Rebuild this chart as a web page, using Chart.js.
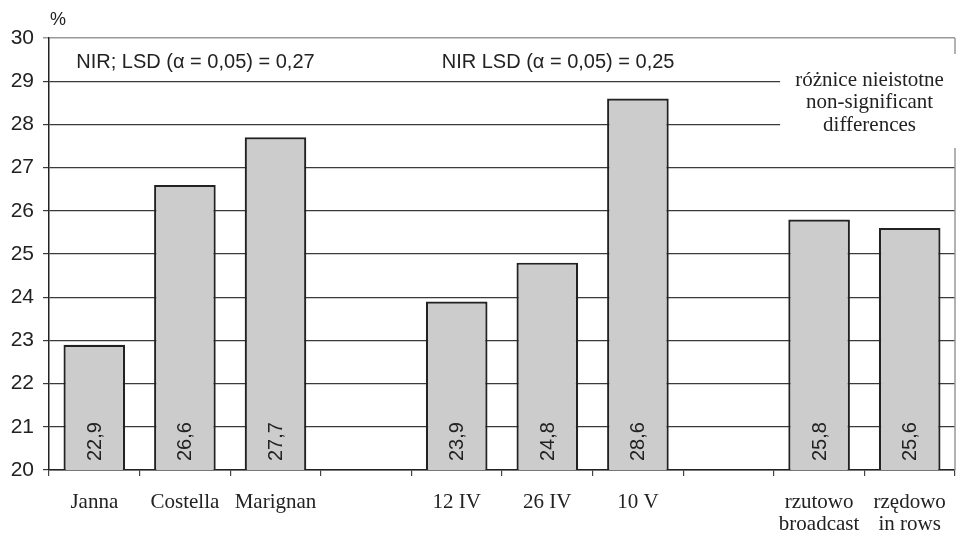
<!DOCTYPE html>
<html>
<head>
<meta charset="utf-8">
<style>
  html, body { margin: 0; padding: 0; background: #fff; }
  #wrap { width: 970px; height: 540px; position: relative; }
</style>
<script src="https://cdn.jsdelivr.net/npm/chart.js@4/dist/chart.umd.min.js"></script>
</head>
<body>
<div id="wrap"><canvas id="c" width="970" height="540"></canvas></div>
<script>
// Categories: cultivars, sowing dates, sowing methods (blank slots separate the groups)
const categories = [
  ['Janna'], ['Costella'], ['Marignan'], '',
  ['12 IV'], ['26 IV'], ['10 V'], '',
  ['rzutowo', 'broadcast'], ['rzędowo', 'in rows']
];
const values = [22.9, 26.6, 27.7, null, 23.9, 24.8, 28.6, null, 25.8, 25.6];
const yMin = 20;
const yMax = 30;
const yStep = 1;
const unitLabel = '%';
const lsdNotes = ['NIR; LSD (\u03b1 = 0,05) = 0,27', 'NIR LSD (\u03b1 = 0,05) = 0,25'];
const boxNote = ['różnice nieistotne', 'non-significant', 'differences'];

const SANS = '"Liberation Sans", Arial, sans-serif';
const SERIF = '"Liberation Serif", "Times New Roman", serif';
const INK = '#222';

const fmt = v => v.toFixed(1).replace('.', ',');

const notesPlugin = {
  id: 'notes',
  afterDatasetsDraw(chart) {
    const ctx = chart.ctx;
    const y = chart.scales.y;
    const meta = chart.getDatasetMeta(0);
    ctx.save();
    ctx.fillStyle = INK;
    ctx.font = '20px ' + SANS;
    ctx.textAlign = 'left';
    ctx.textBaseline = 'middle';
    meta.data.forEach((bar, i) => {
      if (values[i] == null) return;
      ctx.save();
      ctx.translate(bar.x, y.bottom - 9);
      ctx.rotate(-Math.PI / 2);
      ctx.fillText(fmt(values[i]), 0, 1);
      ctx.restore();
    });
    ctx.restore();
  },
  afterDraw(chart) {
    const ctx = chart.ctx;
    const a = chart.chartArea;
    const x = chart.scales.x;
    ctx.save();
    // right frame line
    ctx.strokeStyle = '#999';
    ctx.lineWidth = 1.5;
    ctx.beginPath();
    ctx.moveTo(a.right, a.top);
    ctx.lineTo(a.right, a.bottom);
    ctx.stroke();

    // white panel behind the note on the right
    const bx = x.getPixelForValue(8) - 39;
    ctx.fillStyle = '#fff';
    ctx.fillRect(bx, a.top + 16, chart.width - bx, 94);
    ctx.fillStyle = INK;
    ctx.font = '21px ' + SERIF;
    ctx.textAlign = 'center';
    ctx.textBaseline = 'middle';
    const cx = (bx + a.right) / 2 + 2;
    boxNote.forEach((t, i) => ctx.fillText(t, cx, a.top + 42 + i * 22.5));

    // LSD notes
    ctx.font = '20px ' + SANS;
    ctx.textAlign = 'left';
    ctx.fillText(lsdNotes[0], x.getPixelForValue(0) - 18, a.top + 24);
    ctx.fillText(lsdNotes[1], x.getPixelForValue(4) - 15, a.top + 24);

    // unit label
    ctx.font = '18px ' + SANS;
    ctx.textAlign = 'center';
    ctx.fillText(unitLabel, a.left + 9, 20);
    ctx.restore();
  }
};

new Chart(document.getElementById('c'), {
  type: 'bar',
  data: {
    labels: categories,
    datasets: [{
      data: values,
      backgroundColor: '#cccccc',
      borderColor: INK,
      borderWidth: 2.2,
      barPercentage: 0.68,
      categoryPercentage: 1
    }]
  },
  options: {
    responsive: false,
    animation: false,
    devicePixelRatio: 1,
    layout: { padding: { top: 38, right: 15, left: 0, bottom: 0 } },
    plugins: {
      legend: { display: false },
      tooltip: { enabled: false }
    },
    scales: {
      x: {
        afterFit(s) { s.height = 70; },
        grid: {
          offset: true,
          drawOnChartArea: false,
          drawTicks: true,
          tickLength: 6,
          color: '#444',
          lineWidth: 1.2
        },
        border: { color: INK, width: 1.5 },
        ticks: {
          color: INK,
          padding: 15,
          font: { family: SERIF, size: 21, lineHeight: 1.05 },
          maxRotation: 0,
          autoSkip: false
        }
      },
      y: {
        min: yMin,
        max: yMax,
        afterFit(s) { s.width = 49; },
        grid: {
          color: c => (c.tick && c.tick.value === yMax) ? '#999' : '#3a3a3a',
          lineWidth: c => (c.tick && c.tick.value === yMax) ? 1.5 : 1.2,
          tickLength: 6,
          drawTicks: true
        },
        border: { color: INK, width: 1.5 },
        ticks: {
          stepSize: yStep,
          color: INK,
          padding: 9,
          font: { family: SANS, size: 21 }
        }
      }
    }
  },
  plugins: [notesPlugin]
});
</script>
</body>
</html>
